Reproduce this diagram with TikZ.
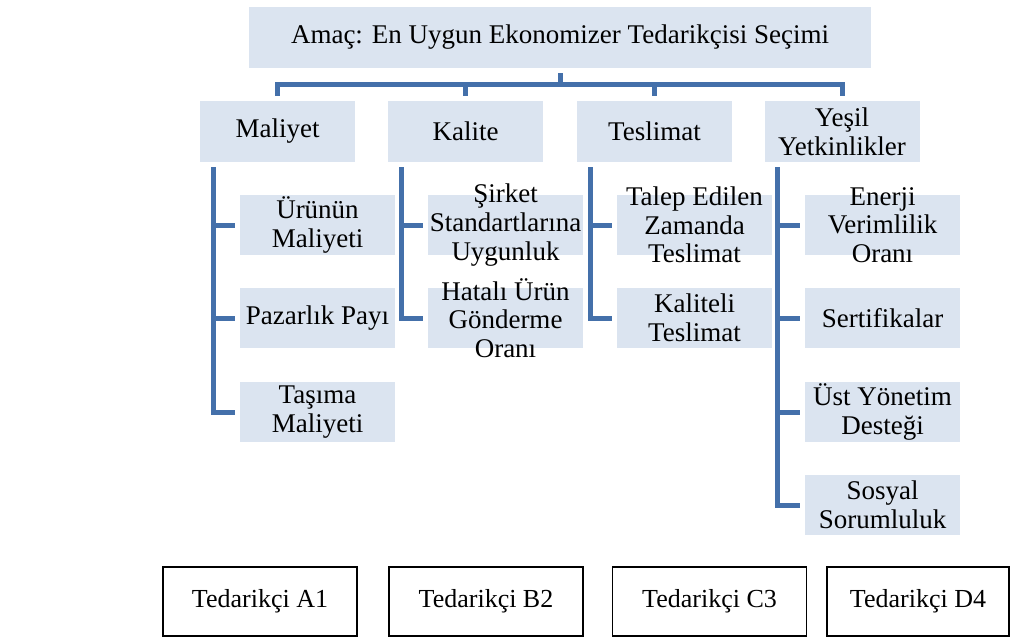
\documentclass[tikz,border=0pt]{standalone}
\usepackage{fontspec}
\setmainfont{Liberation Serif}
\usepackage{tikz}
\definecolor{boxfill}{HTML}{DBE4F0}
\definecolor{linkblue}{HTML}{4470AA}
\tikzset{
  goalbox/.style={fill=boxfill, draw=white, line width=5pt, minimum width=627pt, minimum height=66pt, inner sep=0pt, font=\fontsize{27}{28.7}\selectfont},
  critbox/.style={fill=boxfill, draw=white, line width=5pt, minimum width=160pt, minimum height=66pt, inner sep=0pt, align=center, font=\fontsize{27}{28.7}\selectfont},
  subbox/.style={fill=boxfill, draw=white, line width=5pt, minimum width=160pt, minimum height=65pt, inner sep=0pt},
  subtext/.style={align=center, inner sep=0pt, font=\fontsize{27}{28.7}\selectfont},
  supbox/.style={draw=black, line width=1.3pt, minimum width=194pt, minimum height=69pt, inner sep=0pt, font=\fontsize{26}{28}\selectfont},
  link/.style={draw=linkblue, line width=5pt},
}
\begin{document}
\begin{tikzpicture}[x=1pt, y=-1pt]
 \useasboundingbox (0,0) rectangle (1012,637);
 \node[goalbox] (goal) at (560,37.5) {Amaç: En Uygun Ekonomizer Tedarikçisi Seçimi};
 \node[critbox] (mal) at (277.5,131.5) {Maliyet};
 \node[critbox] (kal) at (465.5,131.5) {Kalite};
 \node[critbox] (tes) at (654.5,131.5) {Teslimat};
 \node[critbox] (yes) at (842,131.5) {Yeşil\\Yetkinlikler};
 \draw[link] (goal.south) -- ++(0,11) coordinate (hub);
 \foreach \c in {mal,kal,tes,yes}
   \draw[link] (hub) -| (\c.north);
 \node[subbox, label={[subtext]center:Ürünün\\Maliyeti}] (m1) at (317.5,225) {};
 \node[subbox, label={[subtext]center:Pazarlık Payı}] (m2) at (317.5,318) {};
 \node[subbox, label={[subtext]center:Taşıma\\Maliyeti}] (m3) at (317.5,412) {};
 \node[subbox, label={[subtext]center:Şirket\\Standartlarına\\Uygunluk}] (k1) at (505.5,225) {};
 \node[subbox, label={[subtext]center:Hatalı Ürün\\Gönderme\\Oranı}] (k2) at (505.5,318) {};
 \node[subbox, label={[subtext]center:Talep Edilen\\Zamanda\\Teslimat}] (t1) at (694.5,225) {};
 \node[subbox, label={[subtext]center:Kaliteli\\Teslimat}] (t2) at (694.5,318) {};
 \node[subbox, label={[subtext]center:Enerji\\Verimlilik\\Oranı}] (y1) at (882.5,225) {};
 \node[subbox, label={[subtext]center:Sertifikalar}] (y2) at (882.5,318) {};
 \node[subbox, label={[subtext]center:Üst Yönetim\\Desteği}] (y3) at (882.5,412) {};
 \node[subbox, label={[subtext]center:Sosyal\\Sorumluluk}] (y4) at (882.5,505) {};
 \foreach \c in {m1,m2,m3}
   \draw[link] ([xshift=18pt]mal.south west) |- (\c.west);
 \foreach \c in {k1,k2}
   \draw[link] ([xshift=18pt]kal.south west) |- (\c.west);
 \foreach \c in {t1,t2}
   \draw[link] ([xshift=18pt]tes.south west) |- (\c.west);
 \foreach \c in {y1,y2,y3,y4}
   \draw[link] ([xshift=18pt]yes.south west) |- (\c.west);
 \node[supbox] (supa) at (260,601.5) {Tedarikçi A1};
 \node[supbox] (supb) at (486,601.5) {Tedarikçi B2};
 \node[supbox] (supc) at (709.5,601.5) {Tedarikçi C3};
 \node[supbox, minimum width=182pt] (supd) at (918,601.5) {Tedarikçi D4};
\end{tikzpicture}
\end{document}
